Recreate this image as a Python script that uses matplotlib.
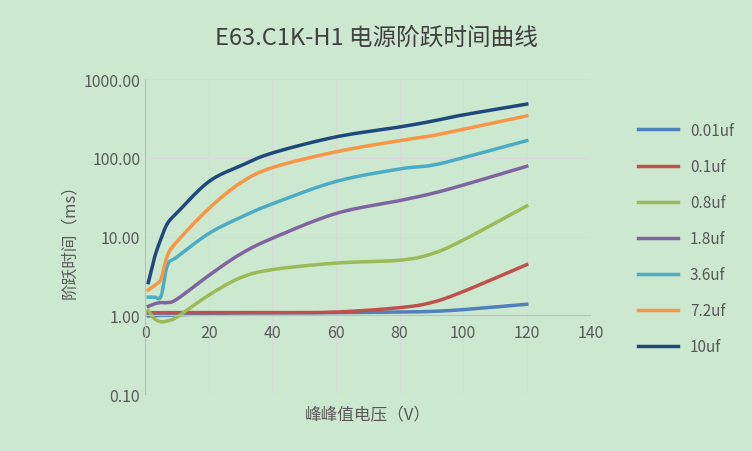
import numpy as np
import matplotlib.pyplot as plt

plt.rcParams['font.family'] = ['Noto Sans CJK SC', 'DejaVu Sans']

x = [1, 3, 5, 7, 10, 20, 30, 40, 60, 80, 90, 100, 120]
labels = ['0.01uf', '0.1uf', '0.8uf', '1.8uf', '3.6uf', '7.2uf', '10uf']
s001 = [0.98, 0.99, 1.0, 1.0, 1.01, 1.05, 1.07, 1.07, 1.08, 1.1, 1.12, 1.18, 1.38]
s01 = [1.08, 1.08, 1.08, 1.08, 1.08, 1.08, 1.08, 1.08, 1.1, 1.25, 1.45, 2.0, 4.4]
s08 = [1.15, 0.9, 0.83, 0.85, 0.95, 1.8, 3.0, 3.8, 4.6, 5.0, 6.0, 9.0, 24.5]
s18 = [1.3, 1.4, 1.45, 1.45, 1.6, 3.2, 6.0, 9.5, 19.6, 28.6, 35.0, 45.0, 78.0]
s36 = [1.7, 1.7, 1.75, 4.3, 5.5, 10.9, 17.5, 26.0, 50.0, 72.0, 80.0, 100.0, 165.0]
s72 = [2.1, 2.4, 2.9, 5.7, 8.6, 22.6, 48.0, 75.0, 119.0, 165.0, 190.0, 230.0, 340.0]
s10 = [2.6, 5.5, 9.4, 14.6, 20.0, 49.7, 79.0, 115.0, 184.0, 246.0, 290.0, 350.0, 480.0]
series = [s001, s01, s08, s18, s36, s72, s10]
colors = ['#4F81BD', '#C0504D', '#9BBB59', '#8064A2', '#4BACC6', '#F79646', '#1F497D']


def smooth(xs, ys, n=20):
    # Catmull-Rom through the points, in x / log10(y) space like Excel's smoothed line
    p = np.column_stack([xs, np.log10(ys)])
    p = np.vstack([p[0], p, p[-1]])
    out = []
    t = np.linspace(0, 1, n)[:, None]
    for i in range(1, len(p) - 2):
        p0, p1, p2, p3 = p[i - 1], p[i], p[i + 1], p[i + 2]
        seg = 0.5 * (2 * p1 + (-p0 + p2) * t + (2 * p0 - 5 * p1 + 4 * p2 - p3) * t ** 2
                     + (-p0 + 3 * p1 - 3 * p2 + p3) * t ** 3)
        out.append(seg)
    out = np.vstack(out)
    return out[:, 0], 10 ** out[:, 1]


bg = '#CCE8CF'
fig = plt.figure(figsize=(7.52, 4.52), dpi=100, facecolor=bg)
ax = fig.add_axes([0.193, 0.126, 0.592, 0.697], facecolor=bg)

for ys, c, lab in zip(series, colors, labels):
    sx, sy = smooth(x, ys)
    ax.plot(sx, sy, color=c, lw=2.5, label=lab)

ax.set_yscale('log')
ax.set_ylim(0.1, 1000)
ax.set_xlim(0, 140)
ax.set_xticks(range(0, 141, 20))
ax.set_yticks([0.1, 1, 10, 100, 1000])
ax.set_yticklabels(['0.10', '1.00', '10.00', '100.00', '1000.00'])
ax.minorticks_off()
ax.grid(True, color='#D9D9D9', lw=0.8)
for s in ['top', 'right']:
    ax.spines[s].set_visible(False)
ax.spines['left'].set_color('#BFBFBF')
ax.spines['bottom'].set_color('#BFBFBF')
ax.spines['bottom'].set_position(('data', 1))
ax.tick_params(length=0, labelsize=11.5, colors='#595959')
ax.tick_params(axis='x', pad=6)

ax.set_xlabel('峰峰值电压（V）', fontsize=12, color='#595959', labelpad=2)
ax.xaxis.set_label_coords(0.5, -0.035)
ax.set_ylabel('阶跃时间（ms）', fontsize=12, color='#595959')
fig.suptitle('E63.C1K-H1 电源阶跃时间曲线', fontsize=17, color='#404040', y=0.94)

fig.legend(loc='center left', bbox_to_anchor=(0.83, 0.47), frameon=False,
           fontsize=11, labelcolor='#595959', handlelength=2.6, labelspacing=1.25)

fig.savefig('out.png', dpi=100, facecolor=bg)
